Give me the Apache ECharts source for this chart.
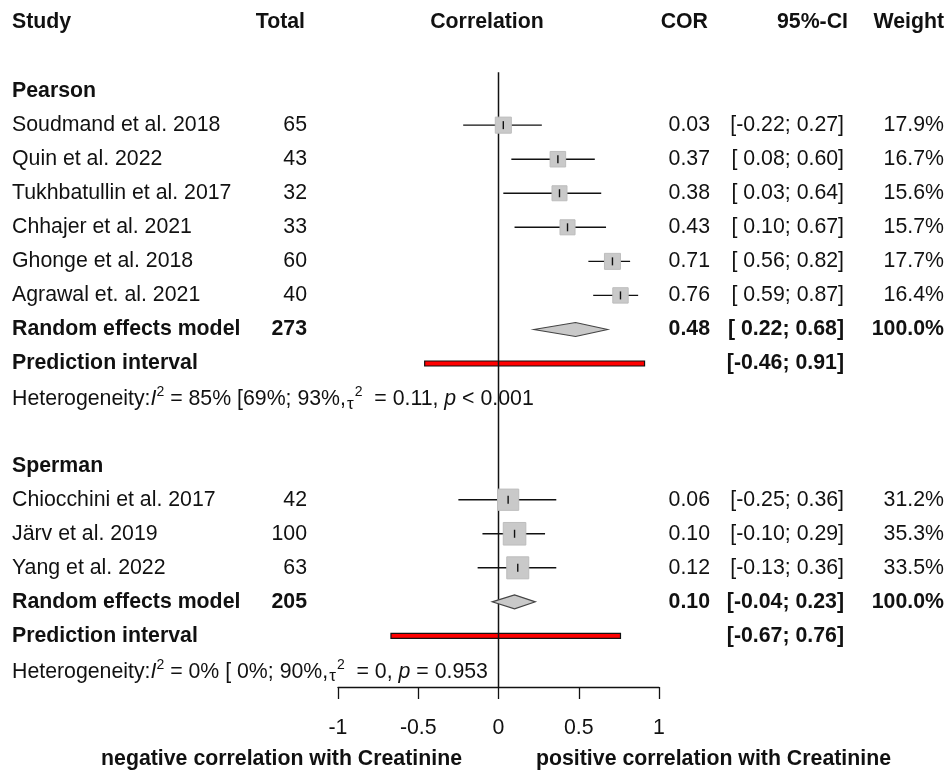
<!DOCTYPE html>
<html>
<head>
<meta charset="utf-8">
<script src="https://cdn.jsdelivr.net/npm/echarts@6/dist/echarts.min.js"></script>
<style>html,body{margin:0;padding:0;background:#fff}#c{width:946px;height:771px}</style>
</head>
<body>
<div id="c"></div>
<script>
// ---------- data ----------
const columnHeaders = ['Study', 'Total', 'Correlation', 'COR', '95%-CI', 'Weight'];
const groupNames = ['Pearson', 'Sperman'];
const modelLabel = 'Random effects model';
const piLabel = 'Prediction interval';

const pearsonStudies = ['Soudmand et al. 2018', 'Quin et al. 2022', 'Tukhbatullin et al. 2017', 'Chhajer et al. 2021', 'Ghonge et al. 2018', 'Agrawal et. al. 2021'];
const pearsonTotals = [65, 43, 32, 33, 60, 40];
const pearsonCor = [0.03, 0.37, 0.38, 0.43, 0.71, 0.76];
const pearsonLower = [-0.22, 0.08, 0.03, 0.10, 0.56, 0.59];
const pearsonUpper = [0.27, 0.60, 0.64, 0.67, 0.82, 0.87];
const pearsonWeight = [17.9, 16.7, 15.6, 15.7, 17.7, 16.4];
const pearsonModel = [273, 0.48, 0.22, 0.68];      // total, COR, lower, upper
const pearsonPI = [-0.46, 0.91];
const pearsonHet = ['85%', '[69%; 93%', '0.11', '< 0.001']; // I2, I2 CI, tau2, p

const spermanStudies = ['Chiocchini et al. 2017', 'Järv et al. 2019', 'Yang et al. 2022'];
const spermanTotals = [42, 100, 63];
const spermanCor = [0.06, 0.10, 0.12];
const spermanLower = [-0.25, -0.10, -0.13];
const spermanUpper = [0.36, 0.29, 0.36];
const spermanWeight = [31.2, 35.3, 33.5];
const spermanModel = [205, 0.10, -0.04, 0.23];
const spermanPI = [-0.67, 0.76];
const spermanHet = ['0%', '[ 0%; 90%', '0', '= 0.953'];

const nullValue = 0;
const xTicks = [-1, -0.5, 0, 0.5, 1];
const sideLabels = ['negative correlation with Creatinine', 'positive correlation with Creatinine'];

// ---------- layout helpers ----------
const FONT = '"Liberation Sans", Arial, Helvetica, sans-serif';
const FS = 21.3;
const INK = '#111';
const COL = { study: 12, total: 307, corr: 487, cor: 710, ci: 844, weight: 944 };
const HCOL = { total: 305, cor: 708, ci: 848, weight: 944 };

function f2(v) { return v.toFixed(2); }
function ciText(lo, hi) {
  const a = (lo < 0 ? '' : ' ') + f2(lo);
  return '[' + a + '; ' + f2(hi) + ']';
}

const groups = [
  { name: groupNames[0], studies: pearsonStudies, totals: pearsonTotals, cor: pearsonCor, lower: pearsonLower, upper: pearsonUpper, weight: pearsonWeight, model: pearsonModel, pi: pearsonPI, het: pearsonHet },
  { name: groupNames[1], studies: spermanStudies, totals: spermanTotals, cor: spermanCor, lower: spermanLower, upper: spermanUpper, weight: spermanWeight, model: spermanModel, pi: spermanPI, het: spermanHet }
];

const texts = [];     // {row, x, text, align, bold, rich}
const studyData = []; // [row, est, lo, hi, w]
const modelData = []; // [row, est, lo, hi]
const piData = [];    // [row, lo, hi]

// header row
const headerRow = -2;
texts.push({ row: headerRow, x: COL.study, text: columnHeaders[0], align: 'left', bold: true, dy: -1 });
texts.push({ row: headerRow, x: HCOL.total, text: columnHeaders[1], align: 'right', bold: true, dy: -1 });
texts.push({ row: headerRow, x: COL.corr, text: columnHeaders[2], align: 'center', bold: true, dy: -1 });
texts.push({ row: headerRow, x: HCOL.cor, text: columnHeaders[3], align: 'right', bold: true, dy: -1 });
texts.push({ row: headerRow, x: HCOL.ci, text: columnHeaders[4], align: 'right', bold: true, dy: -1 });
texts.push({ row: headerRow, x: HCOL.weight, text: columnHeaders[5], align: 'right', bold: true, dy: -1 });

let row = 0;
groups.forEach(function (g, gi) {
  texts.push({ row: row, x: COL.study, text: g.name, align: 'left', bold: true });
  row++;
  g.studies.forEach(function (s, i) {
    texts.push({ row: row, x: COL.study, text: s, align: 'left' });
    texts.push({ row: row, x: COL.total, text: String(g.totals[i]), align: 'right' });
    texts.push({ row: row, x: COL.cor, text: f2(g.cor[i]), align: 'right' });
    texts.push({ row: row, x: COL.ci, text: ciText(g.lower[i], g.upper[i]), align: 'right' });
    texts.push({ row: row, x: COL.weight, text: g.weight[i].toFixed(1) + '%', align: 'right' });
    studyData.push([row, g.cor[i], g.lower[i], g.upper[i], g.weight[i]]);
    row++;
  });
  texts.push({ row: row, x: COL.study, text: modelLabel, align: 'left', bold: true });
  texts.push({ row: row, x: COL.total, text: String(g.model[0]), align: 'right', bold: true });
  texts.push({ row: row, x: COL.cor, text: f2(g.model[1]), align: 'right', bold: true });
  texts.push({ row: row, x: COL.ci, text: ciText(g.model[2], g.model[3]), align: 'right', bold: true });
  texts.push({ row: row, x: COL.weight, text: '100.0%', align: 'right', bold: true });
  modelData.push([row, g.model[1], g.model[2], g.model[3]]);
  row++;
  texts.push({ row: row, x: COL.study, text: piLabel, align: 'left', bold: true });
  texts.push({ row: row, x: COL.ci, text: ciText(g.pi[0], g.pi[1]), align: 'right', bold: true });
  piData.push([row, g.pi[0], g.pi[1]]);
  row++;
  const h = g.het;
  texts.push({ row: row, x: COL.study, align: 'left', rich: true, dy: 2,
    text: '{n|Heterogeneity:}{i|I}{sup|2}{n| = ' + h[0] + ' ' + h[1] + ',}{tau|τ}{sup|2}{n|  = ' + h[2] + ', }{i|p}{n| ' + h[3] + '}' });
  row++;
  if (gi < groups.length - 1) row++; // blank line
});
const lastRow = row - 1;

const richStyles = {
  n: { fontSize: FS, fontFamily: FONT, fill: INK, lineHeight: 28, verticalAlign: 'middle' },
  i: { fontSize: FS, fontFamily: FONT, fill: INK, fontStyle: 'italic', lineHeight: 28, verticalAlign: 'middle' },
  sup: { fontSize: 14, fontFamily: FONT, fill: INK, lineHeight: 14, verticalAlign: 'top' },
  tau: { fontSize: 17, fontFamily: FONT, fill: INK, lineHeight: 17, verticalAlign: 'bottom', padding: [0, 1, 1, 1] }
};

function renderText(params, api) {
  const t = texts[params.dataIndex];
  const y = api.coord([0, api.value(1)])[1] + (t.dy || 0);
  const style = { x: t.x, y: y, align: t.align, verticalAlign: 'middle', fill: INK, text: t.text };
  if (t.rich) {
    style.rich = richStyles;
    style.font = FS + 'px ' + FONT;
  } else {
    style.font = (t.bold ? 'bold ' : '') + FS + 'px ' + FONT;
  }
  return { type: 'text', style: style };
}

function renderStudy(params, api) {
  const r = api.value(0), est = api.value(1), lo = api.value(2), hi = api.value(3), w = api.value(4);
  const a = api.coord([lo, r]), b = api.coord([hi, r]), e = api.coord([est, r]);
  const s = 3.8 * Math.sqrt(w);
  return { type: 'group', children: [
    { type: 'line', shape: { x1: a[0], y1: a[1], x2: b[0], y2: b[1] }, style: { stroke: INK, lineWidth: 1.4 } },
    { type: 'rect', shape: { x: e[0] - s / 2, y: e[1] - s / 2, width: s, height: s }, style: { fill: '#c9c9c9', stroke: '#bdbdbd', lineWidth: 1 } },
    { type: 'line', shape: { x1: e[0], y1: e[1] - 4, x2: e[0], y2: e[1] + 4 }, style: { stroke: INK, lineWidth: 1.4 } }
  ] };
}

function renderModel(params, api) {
  const r = api.value(0), est = api.value(1), lo = api.value(2), hi = api.value(3);
  const a = api.coord([lo, r]), b = api.coord([hi, r]), e = api.coord([est, r]);
  const h = 7;
  return { type: 'polygon', shape: { points: [[a[0], a[1]], [e[0], e[1] - h], [b[0], b[1]], [e[0], e[1] + h]] },
    style: { fill: '#c9c9c9', stroke: '#444', lineWidth: 1.1 } };
}

function renderPI(params, api) {
  const r = api.value(0), lo = api.value(1), hi = api.value(2);
  const a = api.coord([lo, r]), b = api.coord([hi, r]);
  return { type: 'rect', shape: { x: a[0], y: a[1] - 2.5, width: b[0] - a[0], height: 5 },
    style: { fill: '#ff0000', stroke: INK, lineWidth: 1.2 } };
}

const chart = echarts.init(document.getElementById('c'), null, { renderer: 'canvas' });
chart.setOption({
  animation: false,
  backgroundColor: '#ffffff',
  grid: { left: 338, right: 287, top: 23, bottom: 84, containLabel: false },
  xAxis: {
    type: 'value', position: 'bottom', min: xTicks[0], max: xTicks[xTicks.length - 1], interval: 0.5,
    axisLine: { show: true, onZero: false, lineStyle: { color: INK, width: 1.3 } },
    axisTick: { show: true, length: 12, inside: false, lineStyle: { color: INK, width: 1.3 } },
    axisLabel: { show: true, margin: 31, fontSize: FS, fontFamily: FONT, color: INK,
      formatter: function (v) { return String(v); } },
    splitLine: { show: false }
  },
  yAxis: { type: 'value', inverse: true, min: headerRow, max: lastRow + 0.5, show: false },
  graphic: [
    { type: 'text', style: { text: sideLabels[0], x: 462, y: 759, align: 'right', verticalAlign: 'middle', font: 'bold ' + FS + 'px ' + FONT, fill: INK } },
    { type: 'text', style: { text: sideLabels[1], x: 536, y: 759, align: 'left', verticalAlign: 'middle', font: 'bold ' + FS + 'px ' + FONT, fill: INK } }
  ],
  series: [
    { type: 'custom', name: 'pi', renderItem: renderPI, data: piData, clip: false, silent: true, z: 2 },
    { type: 'line', name: 'null', data: [[nullValue, -0.55], [nullValue, lastRow + 0.5]], symbol: 'none', silent: true,
      lineStyle: { color: INK, width: 1.5 }, z: 3 },
    { type: 'custom', name: 'studies', renderItem: renderStudy, data: studyData, clip: false, silent: true, z: 4 },
    { type: 'custom', name: 'models', renderItem: renderModel, data: modelData, clip: false, silent: true, z: 4 },
    { type: 'custom', name: 'texts', renderItem: renderText, data: texts.map(function (t) { return [0, t.row]; }), clip: false, silent: true, z: 5 }
  ]
});
</script>
</body>
</html>
